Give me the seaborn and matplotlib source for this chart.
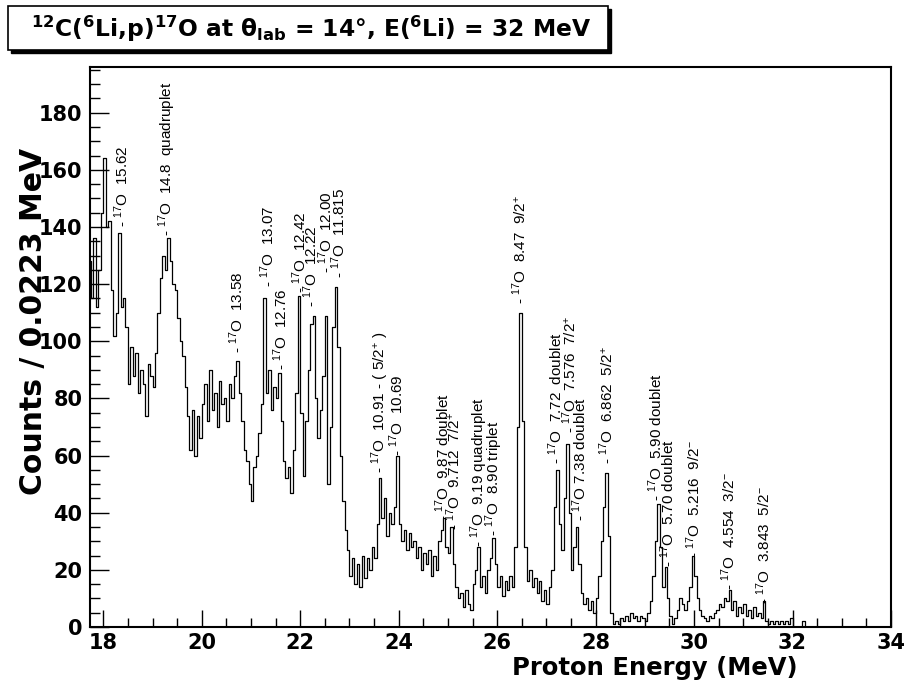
import numpy as np
import pandas as pd
import matplotlib
matplotlib.use("Agg")
import matplotlib.pyplot as plt
from matplotlib.patches import Rectangle
from matplotlib.ticker import MultipleLocator
import seaborn as sns

# ---------------- data ----------------
bin_start = 17.70
bin_width = 0.05
# counts per bin, one row per MeV
counts_17_7 = [128, 115, 136, 112, 125, 145, 164, 140, 142, 118, 102, 110, 138, 112, 115, 105, 85, 98, 88, 96]
counts_18_7 = [82, 90, 85, 74, 92, 88, 84, 96, 110, 122, 130, 125, 136, 128, 120, 118, 108, 100, 95, 84]
counts_19_7 = [74, 62, 76, 60, 74, 66, 78, 85, 72, 90, 76, 82, 70, 86, 78, 80, 72, 85, 80, 88]
counts_20_7 = [93, 82, 72, 62, 58, 50, 44, 56, 60, 68, 78, 115, 82, 90, 76, 84, 80, 89, 72, 58]
counts_21_7 = [52, 56, 47, 62, 82, 116, 75, 53, 72, 90, 106, 109, 80, 66, 76, 88, 109, 50, 70, 105]
counts_22_7 = [119, 98, 60, 44, 34, 27, 18, 24, 15, 22, 14, 25, 17, 24, 20, 28, 24, 36, 52, 38]
counts_23_7 = [45, 32, 40, 36, 42, 60, 36, 30, 34, 27, 33, 28, 30, 24, 28, 20, 26, 22, 27, 18]
counts_24_7 = [25, 20, 30, 34, 38, 28, 26, 35, 22, 14, 10, 12, 7, 13, 8, 6, 15, 20, 28, 14]
counts_25_7 = [18, 12, 20, 24, 31, 22, 14, 18, 11, 16, 13, 18, 14, 28, 70, 110, 72, 28, 16, 20]
counts_26_7 = [14, 17, 12, 16, 9, 13, 8, 14, 20, 42, 55, 36, 27, 45, 64, 40, 20, 28, 35, 22]
counts_27_7 = [12, 8, 10, 6, 9, 5, 10, 18, 30, 42, 54, 32, 5, 1, 2, 1, 3, 2, 4, 2]
counts_28_7 = [5, 3, 4, 2, 4, 3, 2, 5, 9, 18, 30, 43, 28, 14, 21, 10, 4, 1, 3, 6]
counts_29_7 = [10, 8, 6, 9, 14, 25, 18, 10, 6, 4, 3, 2, 4, 3, 5, 6, 8, 7, 10, 9]
counts_30_7 = [13, 6, 9, 4, 7, 5, 8, 4, 6, 3, 7, 4, 5, 3, 9, 2, 1, 2, 1, 2]
counts_31_7 = [1, 2, 1, 2, 1, 3, 0, 0, 0, 0, 2, 0, 0, 0, 0, 0, 0, 0, 0, 0]

# peak annotations: energy position (MeV), counts where label starts, label
ann_energy = [18.38, 19.30, 20.70, 21.33, 21.61, 21.98, 22.22, 22.52, 22.78,
              23.62, 23.95, 24.89, 25.11, 25.64, 25.94, 26.46, 27.18, 27.47,
              27.68, 28.22, 29.23, 29.47, 29.99, 30.70, 31.41]
ann_counts = [140, 137, 96, 119, 90, 117, 112, 124, 122,
              54, 60, 37, 34, 28, 32, 113, 57, 68,
              37, 57, 44, 21, 24, 13, 8]
ann_text = [
    r"- $^{17}$O  15.62",
    r"- $^{17}$O  14.8  quadruplet",
    r"- $^{17}$O  13.58",
    r"- $^{17}$O  13.07",
    r"- $^{17}$O  12.76",
    r"- $^{17}$O  12.42",
    r"- $^{17}$O  12.22",
    r"- $^{17}$O  12.00",
    r"- $^{17}$O  11.815",
    r"- $^{17}$O  10.91 - ( 5/2$^{+}$ )",
    r"- $^{17}$O  10.69",
    r"- $^{17}$O  9.87 doublet",
    r"- $^{17}$O  9.712  7/2$^{+}$",
    r"- $^{17}$O  9.19 quadruplet",
    r"- $^{17}$O  8.90 triplet",
    r"- $^{17}$O  8.47  9/2$^{+}$",
    r"- $^{17}$O  7.72  doublet",
    r"- $^{17}$O  7.576  7/2$^{+}$",
    r"- $^{17}$O 7.38 doublet",
    r"- $^{17}$O  6.862  5/2$^{+}$",
    r"- $^{17}$O  5.90 doublet",
    r"- $^{17}$O  5.70 doublet",
    r"- $^{17}$O  5.216  9/2$^{-}$",
    r"- $^{17}$O  4.554  3/2$^{-}$",
    r"- $^{17}$O  3.843  5/2$^{-}$",
]

x_ticks = [18, 20, 22, 24, 26, 28, 30, 32, 34]
y_ticks = [0, 20, 40, 60, 80, 100, 120, 140, 160, 180]

# ---------------- build table ----------------
counts = (counts_17_7 + counts_18_7 + counts_19_7 + counts_20_7 + counts_21_7 +
          counts_22_7 + counts_23_7 + counts_24_7 + counts_25_7 + counts_26_7 +
          counts_27_7 + counts_28_7 + counts_29_7 + counts_30_7 + counts_31_7)
n = len(counts)
centers = bin_start + bin_width * (np.arange(n) + 0.5)
df = pd.DataFrame({"energy": centers, "counts": np.asarray(counts, dtype=float)})

# ---------------- style ----------------
sns.set_theme(style="white")
plt.rcParams["font.family"] = ["Liberation Sans", "DejaVu Sans"]
plt.rcParams["mathtext.fontset"] = "custom"
plt.rcParams["mathtext.rm"] = "Liberation Sans"
plt.rcParams["mathtext.it"] = "Liberation Sans:italic"
plt.rcParams["mathtext.bf"] = "Liberation Sans:bold"
plt.rcParams["mathtext.default"] = "regular"
for key in ["text.color", "axes.labelcolor", "xtick.color", "ytick.color",
            "axes.edgecolor"]:
    plt.rcParams[key] = "black"

AXFONT = ["DejaVu Sans"]

W, H = 907, 692
fig = plt.figure(figsize=(W / 100, H / 100), dpi=100)
L, R, T, B = 90, 891, 67, 627
ax = fig.add_axes([L / W, 1 - B / H, (R - L) / W, (B - T) / H])

sns.histplot(data=df, x="energy", weights="counts",
             binwidth=bin_width, binrange=(bin_start, bin_start + n * bin_width),
             element="step", fill=False, color="black", linewidth=0.9, ax=ax)

ax.set_xlim(17.73, 34.0)
ax.set_ylim(0, 196)
ax.set_xticks(x_ticks)
ax.set_yticks(y_ticks)
ax.xaxis.set_minor_locator(MultipleLocator(0.5))
ax.yaxis.set_minor_locator(MultipleLocator(5))
ax.tick_params(axis="x", which="major", direction="in", length=12, width=1.0,
               labelsize=15, pad=4, top=False, bottom=True, color="black",
               labelcolor="black")
ax.tick_params(axis="x", which="minor", direction="in", length=6.5, width=1.0,
               top=False, bottom=True, color="black")
ax.tick_params(axis="y", which="major", direction="in", length=14, width=1.0,
               labelsize=15, pad=5.5, left=True, right=False, color="black",
               labelcolor="black")
ax.tick_params(axis="y", which="minor", direction="in", length=7, width=1.0,
               left=True, right=False, color="black")
for lab in ax.get_xticklabels() + ax.get_yticklabels():
    lab.set_fontweight("bold")
    lab.set_family(AXFONT)
for sp in ax.spines.values():
    sp.set_color("black")
    sp.set_linewidth(1.5)

ax.set_xlabel("Proton Energy (MeV)", fontsize=17.5, fontweight="bold",
              family=AXFONT, va="center", color="black")
ax.xaxis.set_label_coords(0.705, -0.074)
ax.set_ylabel("Counts / 0.0223 MeV", fontsize=21.5, fontweight="bold",
              family=AXFONT, va="center", color="black")
ax.yaxis.set_label_coords(-0.071, 0.545)

for e, c, t in zip(ann_energy, ann_counts, ann_text):
    ax.text(e, c, t, rotation=90, ha="center", va="bottom", fontsize=11,
            color="black")

# title box with shadow (ROOT style)
bx0, by0, bx1, by1 = 8, 6, 608, 50
fig.patches.append(Rectangle((bx0 / W + 3 / W, 1 - (by1 + 3) / H), (bx1 - bx0) / W,
                             (by1 - by0) / H, transform=fig.transFigure,
                             facecolor="black", edgecolor="black", zorder=1))
fig.patches.append(Rectangle((bx0 / W, 1 - by1 / H), (bx1 - bx0) / W, (by1 - by0) / H,
                             transform=fig.transFigure, facecolor="white",
                             edgecolor="black", linewidth=1.2, zorder=2))
fig.text((bx0 + bx1) / 2 / W + 3 / W, 1 - 29 / H,
         r"$^{12}$C($^{6}$Li,p)$^{17}$O at $\theta_{lab}$ = 14°, E($^{6}$Li) = 32 MeV",
         ha="center", va="center", fontsize=16.8, fontweight="bold",
         family=AXFONT, color="black", zorder=3)

fig.savefig("out.png", dpi=100)
